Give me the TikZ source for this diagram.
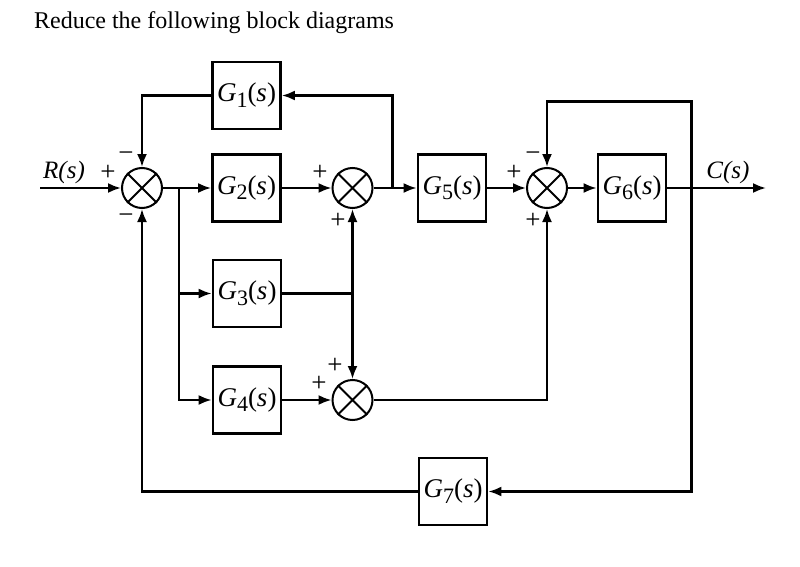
\documentclass[tikz,border=0pt]{standalone}
\usepackage{fontspec}
\setmainfont{Liberation Serif}
\usetikzlibrary{arrows.meta}
\newcommand{\Gl}[1]{\textit{G}\raisebox{-0.2em}{\fontsize{22}{22}\selectfont #1}(\textit{s})}
\begin{document}
\begin{tikzpicture}[x=1pt,y=-1pt,
  line width=2.2pt,
  blk/.style={draw, line width=2.8pt, minimum width=68pt, minimum height=67pt, inner sep=0pt, font=\fontsize{27}{27}\selectfont},
  sumj/.style={draw, circle, line width=2pt, minimum size=40pt, inner sep=0pt},
  arr/.style={-{Latex[length=13pt,width=10pt]}},
  sgn/.style={font=\fontsize{27}{27}\selectfont, inner sep=0pt},
  lbl/.style={font=\fontsize{25}{25}\selectfont\itshape, inner sep=0pt}
]
\useasboundingbox (0,0) rectangle (800,567);
\node[anchor=base west, inner sep=0pt, font=\fontsize{24}{24}\selectfont] (title) at (33,29) {Reduce the following block diagrams};
% summing junctions
\node[sumj] (s1) at (142,188) {};
\node[sumj] (s2) at (352.5,188) {};
\node[sumj] (s3) at (547,188) {};
\node[sumj] (s4) at (352.5,400) {};
\foreach \s in {s1,s2,s3,s4} \draw[line width=2pt] (\s.45) -- (\s.225) (\s.135) -- (\s.315);
% blocks
\node[blk] (g1) at (246.5,95.5) {\Gl{1}};
\node[blk] (g2) at (246.5,188) {\Gl{2}};
\node[blk] (g3) at (247,293.5) {\Gl{3}};
\node[blk] (g4) at (247,400) {\Gl{4}};
\node[blk] (g5) at (452,188) {\Gl{5}};
\node[blk] (g6) at (632,188) {\Gl{6}};
\node[blk] (g7) at (453,491.5) {\Gl{7}};
% coordinates
\coordinate (rin) at (40,188);
\coordinate (out) at (766,188);
\coordinate (b1) at (179,188);
\coordinate (b2) at (392.5,188);
\coordinate (b3) at (691.5,188);
\coordinate (b4) at (352.5,293.5);
\coordinate (t3) at (691.5,101.5);
% connectors
\draw[arr] (rin) -- (s1);
\draw (s1) -- (b1);
\draw[arr] (b1) -- (g2);
\draw[arr] (b1) |- (g4);
\draw[arr] (b1 |- g3) -- (g3);
\draw[arr] (g2) -- (s2);
\draw (s2) -- (b2);
\draw[arr] (b2) -- (g5);
\draw[arr] (b2) |- (g1);
\draw[arr] (g1) -| (s1);
\draw (g3) -- (b4);
\draw[arr] (b4) -- (s2);
\draw[arr] (b4) -- (s4);
\draw[arr] (g4) -- (s4);
\draw[arr] (s4) -| (s3);
\draw[arr] (g5) -- (s3);
\draw[arr] (s3) -- (g6);
\draw[arr] (g6) -- (out);
\draw[arr] (b3) -- (t3) -| (s3);
\draw[arr] (b3) |- (g7);
\draw[arr] (g7) -| (s1);
% signs
\node[sgn] (p1) at (108,173) {+};
\node[sgn] (m1) at (126,157) {−};
\node[sgn] (m2) at (126,219) {−};
\node[sgn] (p2) at (320,173) {+};
\node[sgn] (p3) at (338,221) {+};
\node[sgn] (p4) at (335,366) {+};
\node[sgn] (p5) at (319,384) {+};
\node[sgn] (m3) at (533,157) {−};
\node[sgn] (p6) at (514,173) {+};
\node[sgn] (p7) at (533,221) {+};
% labels
\node[lbl] (R) at (64,172) {R(s)};
\node[lbl] (C) at (728,172) {C(s)};
\end{tikzpicture}
\end{document}
